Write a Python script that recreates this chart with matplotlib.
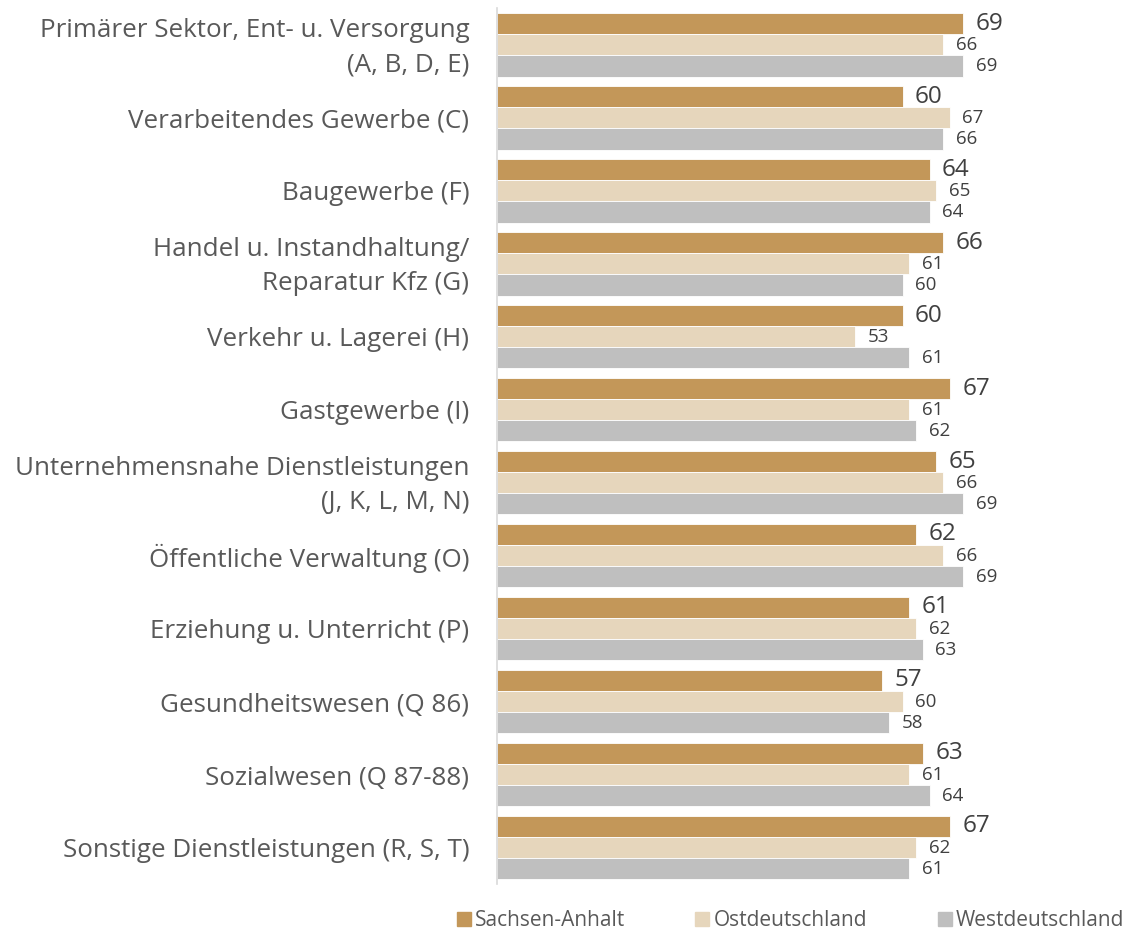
import numpy as np
import matplotlib.pyplot as plt
import matplotlib.transforms as mtransforms
from matplotlib.lines import Line2D

plt.rcParams['font.family'] = ['Open Sans', 'DejaVu Sans']

categories = [
    'Primärer Sektor, Ent- u. Versorgung\n(A, B, D, E)',
    'Verarbeitendes Gewerbe (C)',
    'Baugewerbe (F)',
    'Handel u. Instandhaltung/\nReparatur Kfz (G)',
    'Verkehr u. Lagerei (H)',
    'Gastgewerbe (I)',
    'Unternehmensnahe Dienstleistungen\n(J, K, L, M, N)',
    'Öffentliche Verwaltung (O)',
    'Erziehung u. Unterricht (P)',
    'Gesundheitswesen (Q 86)',
    'Sozialwesen (Q 87-88)',
    'Sonstige Dienstleistungen (R, S, T)',
]
sachsen_anhalt = [69, 60, 64, 66, 60, 67, 65, 62, 61, 57, 63, 67]
ostdeutschland = [66, 67, 65, 61, 53, 61, 66, 66, 62, 60, 61, 62]
westdeutschland = [69, 66, 64, 60, 61, 62, 69, 69, 63, 58, 64, 61]
series = ['Sachsen-Anhalt', 'Ostdeutschland', 'Westdeutschland']
colors = ['#C39759', '#E6D6BC', '#BFBFBF']

fig = plt.figure(figsize=(11.35, 9.33), dpi=100)
ax = fig.add_axes([0.438, 0.0525, 0.562, 0.9385])

y = np.arange(len(categories))
h = 0.29
data = [sachsen_anhalt, ostdeutschland, westdeutschland]
for i, (vals, col) in enumerate(zip(data, colors)):
    pos = y + (i - 1) * h
    ax.barh(pos, vals, height=h, color=col, edgecolor='white', linewidth=0.6)
    fs = 17.5 if i == 0 else 13.5
    for p, v in zip(pos, vals):
        ax.annotate(str(v), (v, p), xytext=(9, 0), textcoords='offset points',
                    ha='left', va='center', fontsize=fs, color='#404040')

ax.set_xlim(0, 94.4)
ax.set_ylim(11.5, -0.5)
ax.set_yticks(y)
ax.set_yticklabels(categories, fontsize=18.7, color='#595959', ha='right',
                   linespacing=1.5)
ax.tick_params(axis='y', length=0, pad=20)
# two-line labels sit a little higher
shift = mtransforms.ScaledTranslation(0, 5 / 100, fig.dpi_scale_trans)
for lab in ax.get_yticklabels():
    if '\n' in lab.get_text():
        lab.set_transform(lab.get_transform() + shift)
ax.set_xticks([])
for s in ['top', 'right', 'bottom']:
    ax.spines[s].set_visible(False)
ax.spines['left'].set_color('#D9D9D9')
ax.spines['left'].set_linewidth(1.2)

handles = [Line2D([], [], marker='s', linestyle='none', markersize=10,
                  markerfacecolor=c, markeredgecolor=c) for c in colors]
fig.legend(handles, series, loc='center', bbox_to_anchor=(0.695, 0.013), ncol=3,
           frameon=False, fontsize=15, labelcolor='#595959', handletextpad=0.05,
           columnspacing=3.2, handlelength=1.0)

fig.savefig('out.png', dpi=100)
